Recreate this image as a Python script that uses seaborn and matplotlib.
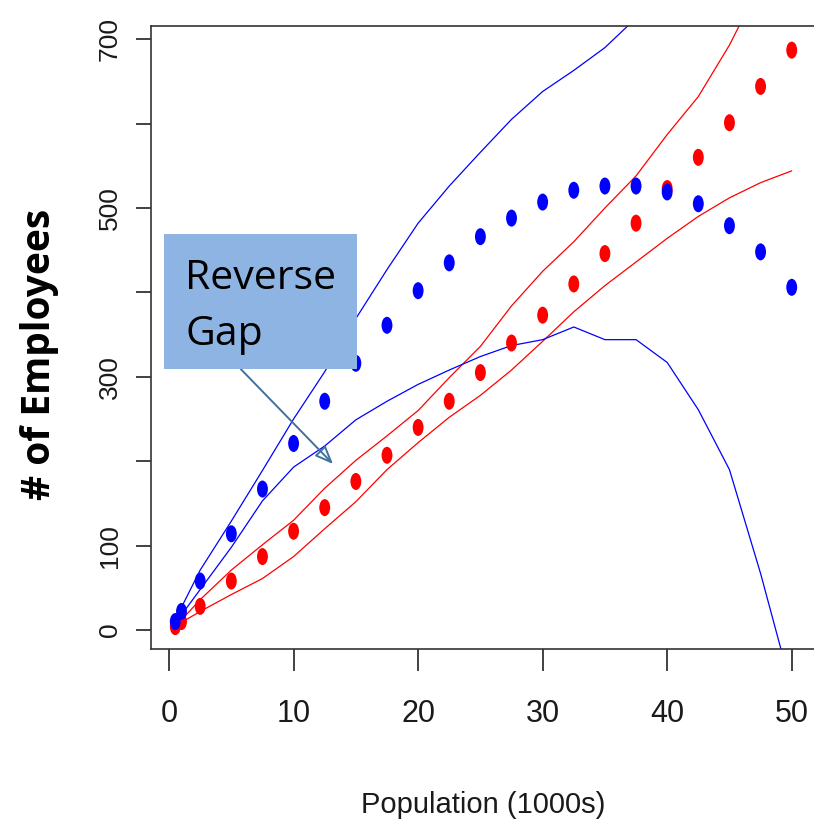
import numpy as np
import pandas as pd
import matplotlib
matplotlib.use("Agg")
import matplotlib.pyplot as plt
import seaborn as sns
from matplotlib import font_manager
from matplotlib.path import Path
from matplotlib.patches import Rectangle

# values
population = [0.5, 1, 2.5, 5, 7.5, 10, 12.5, 15, 17.5, 20, 22.5, 25,
              27.5, 30, 32.5, 35, 37.5, 40, 42.5, 45, 47.5, 50]
blue_points = [10, 22, 58, 114, 167, 221, 271, 316, 361, 402, 435, 466,
               488, 507, 521, 526, 526, 519, 505, 479, 448, 406]
red_points = [4, 10, 28, 58, 87, 117, 145, 176, 207, 240, 271, 305,
              340, 373, 410, 446, 482, 523, 560, 601, 644, 687]
blue_upper = [10, 27, 71, 129, 189, 250, 306, 369, 427, 482, 526, 566,
              605, 638, 663, 690, 725, np.nan, np.nan, np.nan, np.nan, np.nan]
blue_lower = [9, 18, 48, 98, 153, 193, 218, 249, 271, 291, 308, 324,
              337, 344, 359, 344, 344, 317, 261, 190, 67, -70]
red_upper = [4, 12, 36, 71, 101, 130, 168, 201, 230, 260, 299, 336,
             384, 425, 460, 500, 538, 587, 632, 693, 766, np.nan]
red_lower = [3, 9, 22, 42, 61, 87, 120, 152, 190, 222, 252, 278,
             308, 342, 377, 408, 436, 464, 490, 512, 530, 544]

y_ticks = [0, 100, 200, 300, 400, 500, 600, 700]
y_tick_labels = ['0', '100', '', '300', '', '500', '', '700']
x_ticks = [0, 10, 20, 30, 40, 50]


def pick_font(*names):
    avail = {f.name for f in font_manager.fontManager.ttflist}
    for n in names:
        if n in avail:
            return n
    return 'DejaVu Sans'


sns.set_style('white')
axis_font = pick_font('Liberation Sans Narrow', 'Liberation Sans')
box_font = pick_font('Open Sans', 'Lato', 'Noto Sans')
plt.rcParams['font.family'] = [axis_font, 'DejaVu Sans']

df = pd.DataFrame({
    'pop': population,
    'blue': blue_points,
    'red': red_points,
    'blue_hi': blue_upper,
    'blue_lo': blue_lower,
    'red_hi': red_upper,
    'red_lo': red_lower,
})

# tall ellipse marker like the stretched R dots
circ = Path.unit_circle()
ellipse = Path(circ.vertices * np.array([0.64, 1.0]), circ.codes)

fig = plt.figure(figsize=(8.14, 8.30), dpi=100)
ax = fig.add_axes([151 / 814, 1 - 649 / 830, 665 / 814, 623 / 830])

for col, color in [('red_hi', 'red'), ('red_lo', 'red'),
                   ('blue_hi', 'blue'), ('blue_lo', 'blue')]:
    sns.lineplot(data=df, x='pop', y=col, color=color, linewidth=0.9, ax=ax)

sns.scatterplot(data=df, x='pop', y='red', color='red', marker=ellipse,
                s=150, edgecolor='none', ax=ax, zorder=3)
sns.scatterplot(data=df, x='pop', y='blue', color='blue', marker=ellipse,
                s=150, edgecolor='none', ax=ax, zorder=4)

ax.set_xlim(-1.45, 51.95)
ax.set_ylim(-22.5, 715.6)

for side in ['left', 'bottom', 'top', 'right']:
    ax.spines[side].set_color('#333333')
    ax.spines[side].set_linewidth(1.2)

ax.set_yticks(y_ticks)
ax.set_yticklabels(y_tick_labels)
ax.set_xticks(x_ticks)
ax.tick_params(axis='y', direction='out', length=11, width=1.3, color='#333333',
               pad=10, labelsize=19, labelcolor='#1a1a1a', labelrotation=90, left=True)
ax.tick_params(axis='x', direction='out', length=16, width=1.3, color='#333333',
               pad=20, labelsize=22, labelcolor='#1a1a1a', bottom=True)
for lab in ax.get_yticklabels():
    lab.set_va('center')

ax.set_xlabel('Population (1000s)', fontsize=21, color='#1a1a1a')
ax.xaxis.set_label_coords(0.5, -0.228)
ax.set_ylabel('# of Employees', fontsize=28, fontweight='bold', color='black',
              family=[box_font, 'DejaVu Sans'])
ax.yaxis.set_label_coords(-0.139, 0.4735)

# callout box
fig.add_artist(Rectangle((164 / 814, 1 - 369 / 830), 193 / 814, 135 / 830,
                         transform=fig.transFigure, facecolor='#8EB4E3',
                         edgecolor='none', zorder=5))
fig.text(185 / 814, 1 - 345 / 830, 'Reverse\nGap', fontsize=29.5, color='black',
         ha='left', va='baseline', linespacing=1.5,
         family=[box_font, 'DejaVu Sans'], zorder=6)
ax.annotate('', xy=(333, 830 - 464), xycoords='figure pixels',
            xytext=(240.7, 830 - 369), textcoords='figure pixels',
            arrowprops=dict(arrowstyle='-|>,head_length=1.1,head_width=0.45',
                            facecolor='none', edgecolor='#41719C', lw=1.4,
                            shrinkA=0, shrinkB=0),
            zorder=6)

fig.savefig('out.png', dpi=100)
